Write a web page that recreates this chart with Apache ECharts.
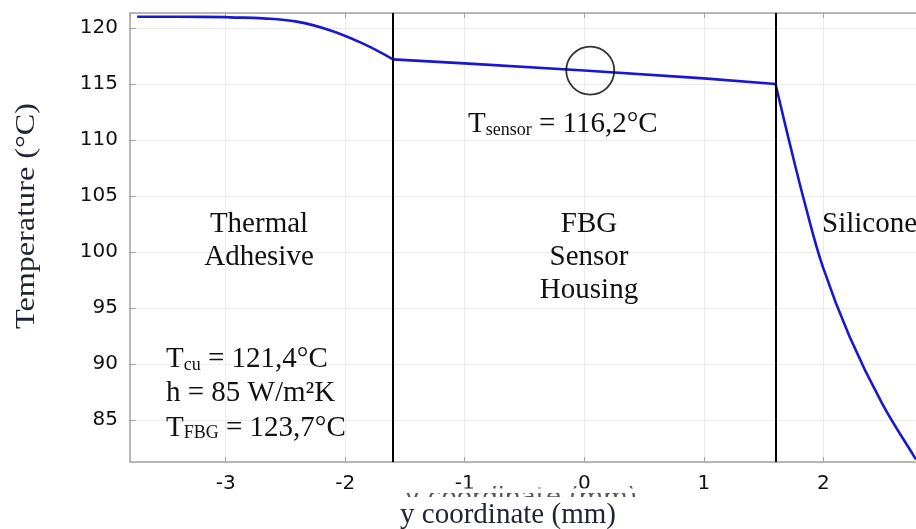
<!DOCTYPE html>
<html>
<head>
<meta charset="utf-8">
<script src="https://cdn.jsdelivr.net/npm/echarts@6/dist/echarts.min.js"></script>
<style>
  html, body { margin: 0; padding: 0; background: #fff; }
  #chart { width: 916px; height: 529px; }
</style>
</head>
<body>
<div id="chart"></div>
<script>
// Temperature profile across thermal adhesive, FBG sensor housing and silicone
const yCoord = [-3.74, -3.4, -3.0, -2.964, -2.686, -2.406, -2.128, -1.85, -1.6,
                -1.0, 0.0, 1.0, 1.6,
                1.705, 1.845, 1.998, 2.22, 2.49, 2.76, 2.775];
const temperature = [121.0, 121.0, 120.97, 120.95, 120.86, 120.57, 119.8, 118.6, 117.2,
                     116.84, 116.2, 115.5, 115.0,
                     110.3, 104.35, 98.6, 92.44, 86.5, 81.73, 81.5];

// Layer interfaces (mm)
const layerBounds = [-1.6, 1.6];

// Sensor position and temperature
const sensorPos = [0.05];
const sensorTemp = [116.2];

const xRange = [-3.8, 2.775];
const yRange = [81.25, 121.34];

const serif = '"Liberation Serif", "Times New Roman", serif';
const sans = '"DejaVu Sans", Verdana, sans-serif';
const axisGrey = '#a3a3a3';
const curveBlue = '#1818d2';

const chart = echarts.init(document.getElementById('chart'), null, { renderer: 'canvas' });

// split the profile into the three material layers
const points = yCoord.map((v, i) => [v, temperature[i]]);
const adhesive = points.filter(p => p[0] <= layerBounds[0]);
const housing = points.filter(p => p[0] >= layerBounds[0] && p[0] <= layerBounds[1]);
const silicone = points.filter(p => p[0] >= layerBounds[1]);

function layerSeries(data, smooth) {
  return {
    type: 'line',
    xAxisIndex: 0,
    data: data,
    showSymbol: false,
    symbol: 'none',
    smooth: smooth,
    lineStyle: { color: curveBlue, width: 2.6 },
    z: 3
  };
}

function richLine(parts) {
  return {
    text: parts,
    rich: {
      a: { fontFamily: serif, fontSize: 29, lineHeight: 34, verticalAlign: 'bottom', fill: '#111', color: '#111' },
      b: { fontFamily: serif, fontSize: 18, lineHeight: 19, verticalAlign: 'bottom', fill: '#111', color: '#111' }
    },
    fill: '#111',
    align: 'left', textAlign: 'left',
    verticalAlign: 'middle', textVerticalAlign: 'middle'
  };
}

function plainText(text, font, opts) {
  return Object.assign({
    text: text,
    font: font,
    fill: '#111',
    align: 'center', textAlign: 'center',
    verticalAlign: 'middle', textVerticalAlign: 'middle'
  }, opts || {});
}

const boundary = layerSeries(housing, false);
boundary.markLine = {
  silent: true,
  symbol: ['none', 'none'],
  label: { show: false },
  lineStyle: { color: '#000', width: 2, type: 'solid' },
  data: layerBounds.map(v => ({ xAxis: v }))
};

const option = {
  backgroundColor: '#fff',
  animation: false,
  grid: { left: 130, top: 13, right: 0, bottom: 67, containLabel: false },
  xAxis: [
    {
      type: 'value',
      position: 'bottom',
      min: xRange[0], max: xRange[1],
      splitNumber: 6,
      axisLine: { show: true, onZero: false, lineStyle: { color: axisGrey, width: 1.5 } },
      axisTick: { show: true, inside: true, length: 5, lineStyle: { color: axisGrey } },
      axisLabel: { fontFamily: sans, fontSize: 20, color: '#111', margin: 12, showMinLabel: false, showMaxLabel: false },
      splitLine: { show: true, lineStyle: { color: '#ececec', width: 1 } }
    },
    {
      type: 'value',
      position: 'top',
      min: xRange[0], max: xRange[1],
      splitNumber: 6,
      axisLine: { show: true, onZero: false, lineStyle: { color: axisGrey, width: 1.5 } },
      axisTick: { show: true, inside: true, length: 5, lineStyle: { color: axisGrey } },
      axisLabel: { show: false },
      splitLine: { show: false }
    }
  ],
  yAxis: {
    type: 'value',
    min: yRange[0], max: yRange[1],
    splitNumber: 8,
    axisLine: { show: true, onZero: false, lineStyle: { color: axisGrey, width: 1.5 } },
    axisTick: { show: true, inside: true, length: 6, lineStyle: { color: axisGrey } },
    axisLabel: { fontFamily: sans, fontSize: 20, color: '#111', margin: 12, showMinLabel: false, showMaxLabel: false },
    splitLine: { show: true, lineStyle: { color: '#ececec', width: 1 } }
  },
  series: [
    layerSeries(adhesive, 0.4),
    boundary,
    layerSeries(silicone, 0.4),
    {
      type: 'scatter',
      xAxisIndex: 0,
      data: sensorPos.map((v, i) => [v, sensorTemp[i]]),
      symbol: 'circle',
      symbolSize: 48,
      itemStyle: { color: 'rgba(0,0,0,0)', borderColor: '#000', borderWidth: 1.8 },
      silent: true,
      z: 4
    }
  ],
  graphic: [
    // original axis caption, mostly hidden
    { type: 'text', x: 405, y: 498, z: 1, style: plainText('y coordinate (mm)', '25px ' + sans, { fill: '#555', align: 'left', textAlign: 'left' }) },
    { type: 'rect', shape: { x: 395, y: 488.5, width: 270, height: 4.5 }, z: 2, style: { fill: '#fff' } },
    { type: 'rect', shape: { x: 395, y: 497, width: 270, height: 32 }, z: 2, style: { fill: '#fff' } },
    // axis titles
    { type: 'text', x: 508, y: 515, z: 3, style: plainText('y coordinate (mm)', '29px ' + serif, { fill: '#1f2433' }) },
    { type: 'text', x: 27, y: 216, z: 3, rotation: Math.PI / 2, scaleX: 1.15, style: plainText('Temperature (°C)', '28px ' + serif, { fill: '#1f2433' }) },
    // layer names
    { type: 'text', x: 259, y: 241, z: 3, style: plainText('Thermal\nAdhesive', '29px ' + serif, { lineHeight: 33 }) },
    { type: 'text', x: 589, y: 257.5, z: 3, style: plainText('FBG\nSensor\nHousing', '29px ' + serif, { lineHeight: 33 }) },
    { type: 'text', x: 822, y: 224, z: 3, style: plainText('Silicone', '29px ' + serif, { align: 'left', textAlign: 'left' }) },
    // sensor reading
    { type: 'text', x: 468, y: 122.3, z: 3, style: richLine('{a|T}{b|sensor}{a| = 116,2°C}') },
    // boundary conditions
    { type: 'text', x: 166, y: 357.3, z: 3, style: richLine('{a|T}{b|cu}{a| = 121,4°C}') },
    { type: 'text', x: 166, y: 390.5, z: 3, style: richLine('{a|h = 85 W/m²K}') },
    { type: 'text', x: 166, y: 425.5, z: 3, style: richLine('{a|T}{b|FBG}{a| = 123,7°C}') }
  ]
};

chart.setOption(option);
</script>
</body>
</html>
